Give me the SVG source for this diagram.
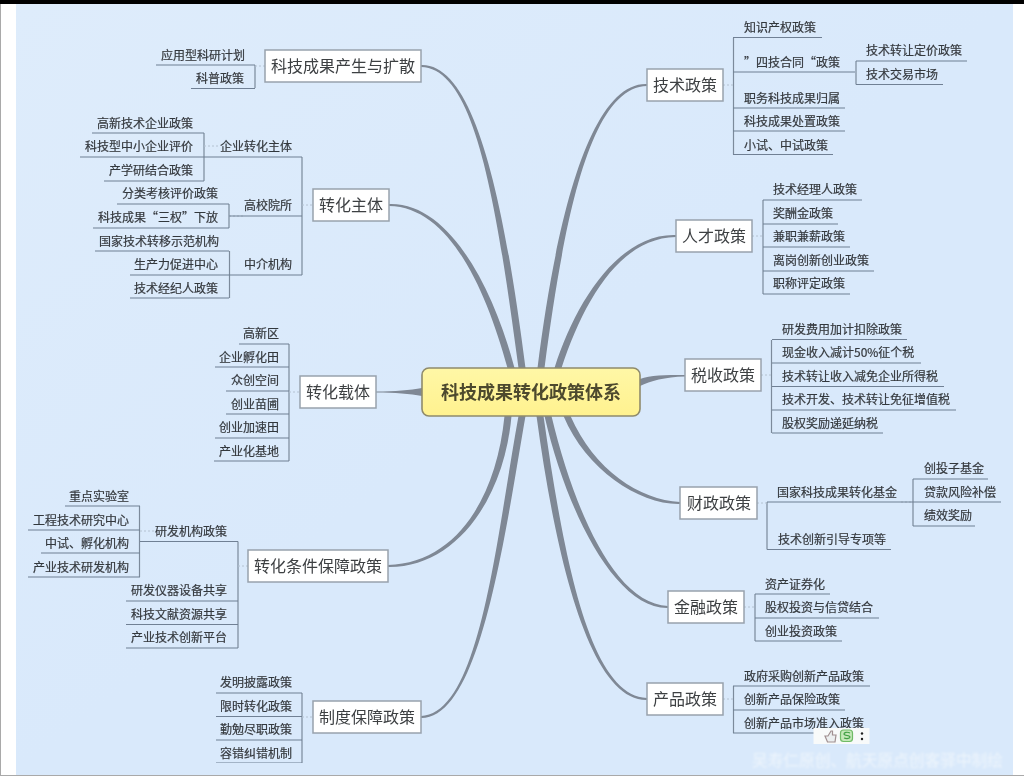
<svg xmlns="http://www.w3.org/2000/svg" width="1024" height="776" viewBox="0 0 1024 776">
<style>
text{font-family:"Noto Sans CJK SC","Liberation Sans",sans-serif;fill:#34383d}
.l{font-size:12px;text-anchor:end;stroke:#34383d;stroke-width:.2}
.r{font-size:12px;text-anchor:start;stroke:#34383d;stroke-width:.2}
.b{font-size:16px;text-anchor:middle;fill:#3c3f42}
.box{fill:#fff;stroke:#98a2ad;stroke-width:1.5}
.u{stroke:#6f8094;stroke-width:1.2;fill:none}
.v{stroke:#7b8a9b;stroke-width:1.2;fill:none}
.d{stroke:#b4c2d1;stroke-width:1;stroke-dasharray:2 2;fill:none}
.c{fill:#7f8895;stroke:none}
</style>
<defs>
<linearGradient id="bg" x1="0" y1="0" x2="1" y2="1"><stop offset="0" stop-color="#deecfb"/><stop offset="0.5" stop-color="#d9e9fb"/><stop offset="1" stop-color="#d9e9fb"/></linearGradient>
<linearGradient id="cg" x1="0" y1="0" x2="0" y2="1"><stop offset="0" stop-color="#fff7a6"/><stop offset="1" stop-color="#fff28f"/></linearGradient>
<filter id="soft" x="0" y="0" width="100%" height="100%"><feGaussianBlur stdDeviation="0.45"/></filter>
<filter id="wm" x="-5%" y="-30%" width="110%" height="160%"><feGaussianBlur stdDeviation="0.9"/></filter>
</defs>
<rect width="1024" height="776" fill="#fff"/>
<rect x="16" y="4" width="997" height="771" fill="url(#bg)"/>
<rect x="0" y="4" width="1" height="772" fill="#a9a9a9"/>
<rect x="0" y="775" width="1024" height="1" fill="#a9a9a9"/>
<rect x="0" y="0" width="1024" height="4" fill="#000"/>
<g filter="url(#soft)">
<g id="connectors">
<path class="c" d="M421,65C475,63 504,200 525.5,368L518.5,368C496,200 475,68 421,67Z"/>
<path class="c" d="M389,204C450,202 494,290 514.5,368L507.5,368C486,290 450,207 389,206Z"/>
<path class="c" d="M376,391.5C395,391.5 410,390 422,388L422,396C410,394 395,392.5 376,392.5Z"/>
<path class="c" d="M388,565C455,563 496,500 504.5,416L511.5,416C504,500 455,568 388,567Z"/>
<path class="c" d="M421,716C480,714 496,540 518.5,416L525.5,416C504,540 480,719 421,718Z"/>
<path class="c" d="M647,84C590,82 556,220 537.5,368L544.5,368C564,220 590,87 647,86Z"/>
<path class="c" d="M676,235C620,233 576,300 554.5,368L561.5,368C584,300 620,238 676,237Z"/>
<path class="c" d="M685,375C665,375 650,375 640,379L640,386C650,381 665,377 685,376.5Z"/>
<path class="c" d="M680,502C640,500 594,470 570.5,416L563.5,416C586,470 640,505 680,504Z"/>
<path class="c" d="M668,606C615,604 574,510 551.5,416L544.5,416C566,510 615,609 668,608Z"/>
<path class="c" d="M647,698C590,696 564,560 543.5,416L536.5,416C556,560 590,701 647,700Z"/>
<path class="v" d="M255,65V88M302,157V275M204,133V181M229,204V228M229.500,251V298M289,344V461M238,541.500V648M139.500,506V577M302,693V763M733.500,38V154.500M856,61V84.500M763,200V294M771.500,340V433M767,502V549.500M913,479V526M755,594V641M733.500,686V733"/>
<path class="d" d="M255,66H265M204,146H219M302,205H313M229,216H244M289,392H300M238,566H248M140,531H155M302,717H313M723,85H733M752,236H763M761,375H771M757,503H767M901,502H913M744,607H755M723,699H733"/>
</g>
<g id="center"><rect x="422" y="368" width="218" height="48" rx="7" fill="url(#cg)" stroke="#8f8b6c" stroke-width="1.6"/><text x="531" y="399" font-size="18" font-weight="700" text-anchor="middle" style="fill:#4d4a2d">科技成果转化政策体系</text></g>
<g id="b1"><rect class="box" x="265" y="50" width="156" height="32"/><text class="b" x="343" y="72">科技成果产生与扩散</text></g>
<g id="b2"><rect class="box" x="313" y="189" width="76" height="32"/><text class="b" x="351" y="211">转化主体</text></g>
<g id="b3"><rect class="box" x="300" y="376" width="76" height="32"/><text class="b" x="338" y="398">转化载体</text></g>
<g id="b4"><rect class="box" x="248" y="550" width="140" height="32"/><text class="b" x="318" y="572">转化条件保障政策</text></g>
<g id="b5"><rect class="box" x="313" y="701" width="108" height="32"/><text class="b" x="367" y="723">制度保障政策</text></g>
<g id="b6"><rect class="box" x="647" y="69" width="76" height="32"/><text class="b" x="685" y="91">技术政策</text></g>
<g id="b7"><rect class="box" x="676" y="220" width="76" height="32"/><text class="b" x="714" y="242">人才政策</text></g>
<g id="b8"><rect class="box" x="685" y="359" width="76" height="32"/><text class="b" x="723" y="381">税收政策</text></g>
<g id="b9"><rect class="box" x="680" y="487" width="77" height="32"/><text class="b" x="719" y="509">财政政策</text></g>
<g id="b10"><rect class="box" x="668" y="591" width="76" height="32"/><text class="b" x="706" y="613">金融政策</text></g>
<g id="b11"><rect class="box" x="647" y="683" width="76" height="32"/><text class="b" x="685" y="705">产品政策</text></g>

<g id="n1"><text class="l" x="245" y="59.500">应用型科研计划</text><path class="u" d="M156,65H255"/></g>
<g id="n2"><text class="l" x="244" y="83">科普政策</text><path class="u" d="M191,88.500H255"/></g>
<g id="n3"><text class="l" x="292" y="151">企业转化主体</text><path class="u" d="M204,157H302"/></g>
<g id="n4"><text class="l" x="292" y="210">高校院所</text><path class="u" d="M229,216H302"/></g>
<g id="n5"><text class="l" x="292" y="269">中介机构</text><path class="u" d="M229,275H302"/></g>
<g id="n6"><text class="l" x="193" y="128">高新技术企业政策</text><path class="u" d="M92,133H204"/></g>
<g id="n7"><text class="l" x="193" y="151">科技型中小企业评价</text><path class="u" d="M80,157H204"/></g>
<g id="n8"><text class="l" x="193" y="175">产学研结合政策</text><path class="u" d="M104,181H204"/></g>
<g id="n9"><text class="l" x="218" y="198">分类考核评价政策</text><path class="u" d="M117,204H229"/></g>
<g id="n10"><text class="l" x="218" y="222">科技成果“三权”下放</text><path class="u" d="M93,228H229"/></g>
<g id="n11"><text class="l" x="219" y="246">国家技术转移示范机构</text><path class="u" d="M95,251H229"/></g>
<g id="n12"><text class="l" x="218" y="269">生产力促进中心</text><path class="u" d="M130,275H229"/></g>
<g id="n13"><text class="l" x="218" y="293">技术经纪人政策</text><path class="u" d="M130,298H229"/></g>
<g id="n14"><text class="l" x="279" y="338">高新区</text><path class="u" d="M239,344H289"/></g>
<g id="n15"><text class="l" x="279" y="361.500">企业孵化田</text><path class="u" d="M215,367H289"/></g>
<g id="n16"><text class="l" x="279" y="385">众创空间</text><path class="u" d="M226,391H289"/></g>
<g id="n17"><text class="l" x="279" y="408.500">创业苗圃</text><path class="u" d="M226,414H289"/></g>
<g id="n18"><text class="l" x="279" y="432">创业加速田</text><path class="u" d="M215,438H289"/></g>
<g id="n19"><text class="l" x="279" y="455.500">产业化基地</text><path class="u" d="M214,461H289"/></g>
<g id="n20"><text class="l" x="227" y="536">研发机构政策</text><path class="u" d="M140,541.500H238"/></g>
<g id="n21"><text class="l" x="227" y="595">研发仪器设备共享</text><path class="u" d="M126,601H238"/></g>
<g id="n22"><text class="l" x="227" y="618.500">科技文献资源共享</text><path class="u" d="M126,624.500H238"/></g>
<g id="n23"><text class="l" x="227" y="642">产业技术创新平台</text><path class="u" d="M126,648H238"/></g>
<g id="n24"><text class="l" x="129" y="501">重点实验室</text><path class="u" d="M65,506H140"/></g>
<g id="n25"><text class="l" x="129" y="524.500">工程技术研究中心</text><path class="u" d="M28,530H140"/></g>
<g id="n26"><text class="l" x="129" y="548">中试、孵化机构</text><path class="u" d="M41,553H140"/></g>
<g id="n27"><text class="l" x="129" y="571.500">产业技术研发机构</text><path class="u" d="M28,577H140"/></g>
<g id="n28"><text class="l" x="292" y="687">发明披露政策</text><path class="u" d="M216,693H302"/></g>
<g id="n29"><text class="l" x="292" y="710.500">限时转化政策</text><path class="u" d="M216,716.500H302"/></g>
<g id="n30"><text class="l" x="292" y="734">勤勉尽职政策</text><path class="u" d="M216,740H302"/></g>
<g id="n31"><text class="l" x="292" y="757.500">容错纠错机制</text><path class="u" d="M216,763H302"/></g>

<g id="n32"><text class="r" x="744" y="31.500">知识产权政策</text><path class="u" d="M733,37.500H822"/></g>
<g id="n33"><text class="r" x="744" y="66.500">”四技合同“政策</text><path class="u" d="M733,72H855"/></g>
<g id="n34"><text class="r" x="744" y="102.500">职务科技成果归属</text><path class="u" d="M733,108H845"/></g>
<g id="n35"><text class="r" x="744" y="126">科技成果处置政策</text><path class="u" d="M733,131H845"/></g>
<g id="n36"><text class="r" x="744" y="149.500">小试、中试政策</text><path class="u" d="M733,154.500H833"/></g>
<g id="n37"><text class="r" x="866" y="55">技术转让定价政策</text><path class="u" d="M856,61H967"/></g>
<g id="n38"><text class="r" x="866" y="78.500">技术交易市场</text><path class="u" d="M856,84.500H943"/></g>
<g id="n39"><text class="r" x="773" y="194">技术经理人政策</text><path class="u" d="M763,200H862"/></g>
<g id="n40"><text class="r" x="773" y="217.500">奖酬金政策</text><path class="u" d="M763,224H838"/></g>
<g id="n41"><text class="r" x="773" y="241">兼职兼薪政策</text><path class="u" d="M763,247H850"/></g>
<g id="n42"><text class="r" x="773" y="264.500">离岗创新创业政策</text><path class="u" d="M763,271H874"/></g>
<g id="n43"><text class="r" x="773" y="288">职称评定政策</text><path class="u" d="M763,294H850"/></g>
<g id="n44"><text class="r" x="782" y="333.500">研发费用加计扣除政策</text><path class="u" d="M772,339.500H907"/></g>
<g id="n45"><text class="r" x="782" y="357">现金收入减计50%征个税</text><path class="u" d="M772,363H921"/></g>
<g id="n46"><text class="r" x="782" y="380.500">技术转让收入减免企业所得税</text><path class="u" d="M772,386.500H944"/></g>
<g id="n47"><text class="r" x="782" y="404">技术开发、技术转让免征增值税</text><path class="u" d="M772,410H956"/></g>
<g id="n48"><text class="r" x="782" y="427.500">股权奖励递延纳税</text><path class="u" d="M772,433H883"/></g>
<g id="n49"><text class="r" x="777" y="496.500">国家科技成果转化基金</text><path class="u" d="M767,502H913"/></g>
<g id="n50"><text class="r" x="778" y="543.500">技术创新引导专项等</text><path class="u" d="M767,549.500H891"/></g>
<g id="n51"><text class="r" x="924" y="472.500">创投子基金</text><path class="u" d="M913,479H988"/></g>
<g id="n52"><text class="r" x="924" y="496.500">贷款风险补偿</text><path class="u" d="M913,502H1001"/></g>
<g id="n53"><text class="r" x="924" y="519.500">绩效奖励</text><path class="u" d="M913,526H975"/></g>
<g id="n54"><text class="r" x="765" y="588.500">资产证券化</text><path class="u" d="M755,594H830"/></g>
<g id="n55"><text class="r" x="765" y="612">股权投资与信贷结合</text><path class="u" d="M755,618H879"/></g>
<g id="n56"><text class="r" x="765" y="635.500">创业投资政策</text><path class="u" d="M755,641H842"/></g>
<g id="n57"><text class="r" x="744" y="680.500">政府采购创新产品政策</text><path class="u" d="M733,686H870"/></g>
<g id="n58"><text class="r" x="744" y="704">创新产品保险政策</text><path class="u" d="M733,710H845"/></g>
<g id="n59"><text class="r" x="744" y="727.500">创新产品市场准入政策</text><path class="u" d="M733,733H815"/></g>

<g id="toolbar">
<rect x="813.500" y="728" width="56" height="16" fill="#f8fafa"/>
<path d="M825,736h3l3,-5h1.500v4h3.500l-1,7h-7.500z" fill="#eceff0" stroke="#a08f90" stroke-width="1.200"/>
<rect x="840.500" y="730" width="12" height="11.500" rx="3" fill="#c4e8b8" stroke="#6fbb66" stroke-width="1.200"/>
<path d="M850,733c-3,-1.500 -6,-.5 -6,1c0,2 6,1 6,3c0,1.500 -3,2 -6,1" fill="none" stroke="#3f9f43" stroke-width="1.200"/>
<circle cx="862" cy="733.500" r="1.200" fill="#222"/><circle cx="862" cy="739" r="1.200" fill="#222"/>
</g>
</g>
<text id="watermark" x="752" y="766" font-size="15.700" filter="url(#wm)" style="fill:#eef5fc">吴寿仁原创、航天原点创客驿中制绘</text>
</svg>
